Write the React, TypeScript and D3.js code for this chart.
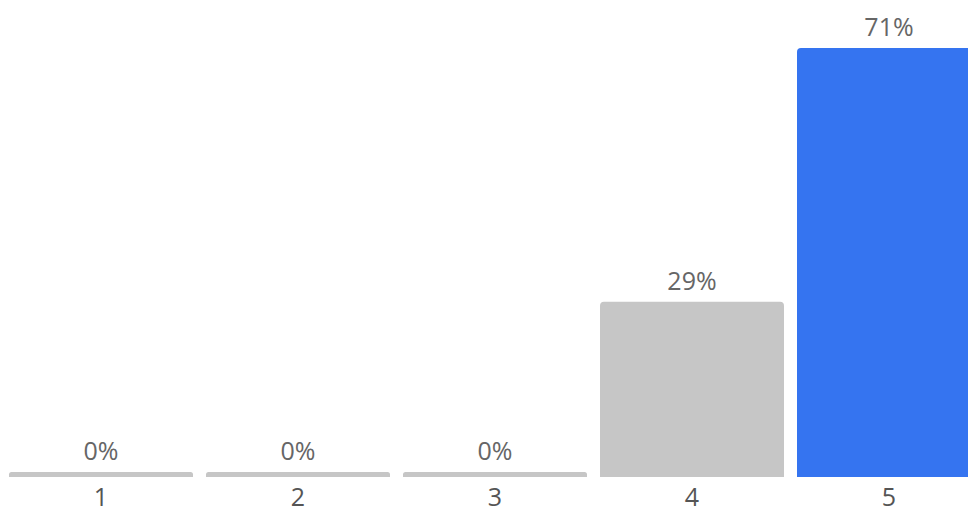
import React from "react";
import * as d3 from "d3";

const categories = ["1", "2", "3", "4", "5"];
const values = [0, 0, 0, 29, 71];
const labels = ["0%", "0%", "0%", "29%", "71%"];
const highlight = [false, false, false, false, true];

const W = 968;
const H = 509;

export default function App() {
  const x = d3
    .scaleBand<string>()
    .domain(categories)
    .range([9, 981])
    .paddingInner(13 / 197)
    .paddingOuter(0);
  const y = d3.scaleLinear().domain([0, 71]).range([477, 48]);
  const minH = 5;
  const r = 4;

  return (
    <svg
      width={W}
      height={H}
      style={{ position: "absolute", left: 0, top: 0, display: "block" }}
      fontFamily="'Open Sans', sans-serif"
    >
      <rect width={W} height={H} fill="#ffffff" />
      {categories.map((c, i) => {
        const x0 = x(c) as number;
        const bw = x.bandwidth();
        const top = Math.min(y(values[i]), y(0) - minH);
        const bottom = y(0);
        const h = bottom - top;
        const rr = Math.min(r, h / 2);
        const path = `M${x0},${bottom} L${x0},${top + rr} Q${x0},${top} ${x0 + rr},${top} L${x0 + bw - rr},${top} Q${x0 + bw},${top} ${x0 + bw},${top + rr} L${x0 + bw},${bottom} Z`;
        const cx = x0 + bw / 2;
        return (
          <g key={c}>
            <path d={path} fill={highlight[i] ? "#3574f0" : "#c6c6c6"} />
            <text x={cx} y={top - 12} textAnchor="middle" fontSize={25} fill="#666666">
              {labels[i]}
            </text>
            <text x={cx} y={506} textAnchor="middle" fontSize={25} fill="#555555">
              {c}
            </text>
          </g>
        );
      })}
    </svg>
  );
}
